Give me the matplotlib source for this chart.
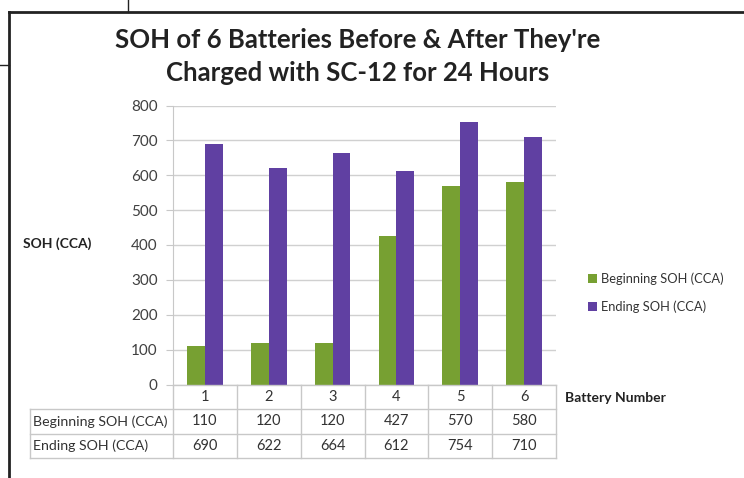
import matplotlib
matplotlib.use("Agg")
import matplotlib.pyplot as plt
import numpy as np
from matplotlib.lines import Line2D
from matplotlib.patches import Patch

plt.rcParams['font.family'] = ['Lato', 'DejaVu Sans']

batteries = ["1", "2", "3", "4", "5", "6"]
beginning = [110, 120, 120, 427, 570, 580]
ending = [690, 622, 664, 612, 754, 710]
series_names = ["Beginning SOH (CCA)", "Ending SOH (CCA)"]
colors = ["#77A032", "#6040A2"]
yticks = [0, 100, 200, 300, 400, 500, 600, 700, 800]

W, H = 744, 478
fig = plt.figure(figsize=(W / 100, H / 100), dpi=100)

def fx(px):
    return px / W

def fy(py):
    return 1 - py / H

L, R, B, T = 173, 556, 384.5, 105.5
ax = fig.add_axes([fx(L), fy(B), fx(R) - fx(L), fy(T) - fy(B)])

x = np.arange(len(batteries))
bw = 0.28
ax.bar(x - bw / 2, beginning, bw, color=colors[0], zorder=3)
ax.bar(x + bw / 2, ending, bw, color=colors[1], zorder=3)
ax.set_xlim(-0.5, len(batteries) - 0.5)
ax.set_ylim(0, 800)
ax.set_yticks(yticks)
ax.set_yticklabels([str(v) for v in yticks], fontsize=11, color="#404040")
ax.tick_params(axis='y', length=5, color="#C8C8C8", pad=6)
ax.set_xticks([])
ax.grid(axis='y', color="#D0D0D0", linewidth=1, zorder=0)
for s in ["top", "right", "bottom"]:
    ax.spines[s].set_visible(False)
ax.spines["left"].set_color("#C8C8C8")

# data table
row_h = 24.5
tb_left = 30
grid_c = "#C8C8C8"

def xpix(v):
    return L + (v + 0.5) / len(batteries) * (R - L)

col_edges = np.arange(len(batteries) + 1) - 0.5
for e in col_edges:
    fig.add_artist(Line2D([fx(xpix(e))] * 2, [fy(B), fy(B + 3 * row_h)], color=grid_c, lw=1))
fig.add_artist(Line2D([fx(tb_left)] * 2, [fy(B + row_h), fy(B + 3 * row_h)], color=grid_c, lw=1))
fig.add_artist(Line2D([fx(L), fx(R)], [fy(B)] * 2, color=grid_c, lw=1))
for k in (1, 2, 3):
    fig.add_artist(Line2D([fx(tb_left), fx(R)], [fy(B + k * row_h)] * 2, color=grid_c, lw=1))

for i, lab in enumerate(batteries):
    fig.text(fx(xpix(i)), fy(B + row_h / 2), lab, ha='center', va='center', fontsize=10.5, color="#333333")
    fig.text(fx(xpix(i)), fy(B + 1.5 * row_h), str(beginning[i]), ha='center', va='center', fontsize=10.5, color="#333333")
    fig.text(fx(xpix(i)), fy(B + 2.5 * row_h), str(ending[i]), ha='center', va='center', fontsize=10.5, color="#333333")
fig.text(fx(tb_left + 3), fy(B + 1.5 * row_h), series_names[0], ha='left', va='center', fontsize=10.2, color="#333333")
fig.text(fx(tb_left + 3), fy(B + 2.5 * row_h), series_names[1], ha='left', va='center', fontsize=10.2, color="#333333")

fig.text(fx(565), fy(398), "Battery Number", ha='left', va='center', fontsize=10, fontweight='bold', color="#222222")
fig.text(fx(23), fy(244), "SOH (CCA)", ha='left', va='center', fontsize=10, fontweight='bold', color="#222222")

fig.text(fx(358), fy(40), "SOH of 6 Batteries Before & After They're", ha='center', va='center',
         fontsize=18.5, fontweight='bold', color="#222222")
fig.text(fx(358), fy(73), "Charged with SC-12 for 24 Hours", ha='center', va='center',
         fontsize=18.5, fontweight='bold', color="#222222")

handles = [Patch(facecolor=c, edgecolor='none') for c in colors]
fig.legend(handles, series_names, loc='center left', bbox_to_anchor=(fx(576), fy(293)),
           frameon=False, fontsize=9.3, handlelength=0.7, handleheight=0.7, handletextpad=0.3,
           labelspacing=1.2, labelcolor="#333333")

# outer frame lines
fig.add_artist(Line2D([fx(9), fx(W)], [fy(12)] * 2, color="#222222", lw=2))
fig.add_artist(Line2D([fx(9)] * 2, [fy(12), fy(H)], color="#222222", lw=2))
fig.add_artist(Line2D([fx(128)] * 2, [fy(0), fy(12)], color="#222222", lw=1))
fig.add_artist(Line2D([fx(0), fx(9)], [fy(65)] * 2, color="#222222", lw=1))

fig.savefig("out.png", dpi=100, facecolor="white")
